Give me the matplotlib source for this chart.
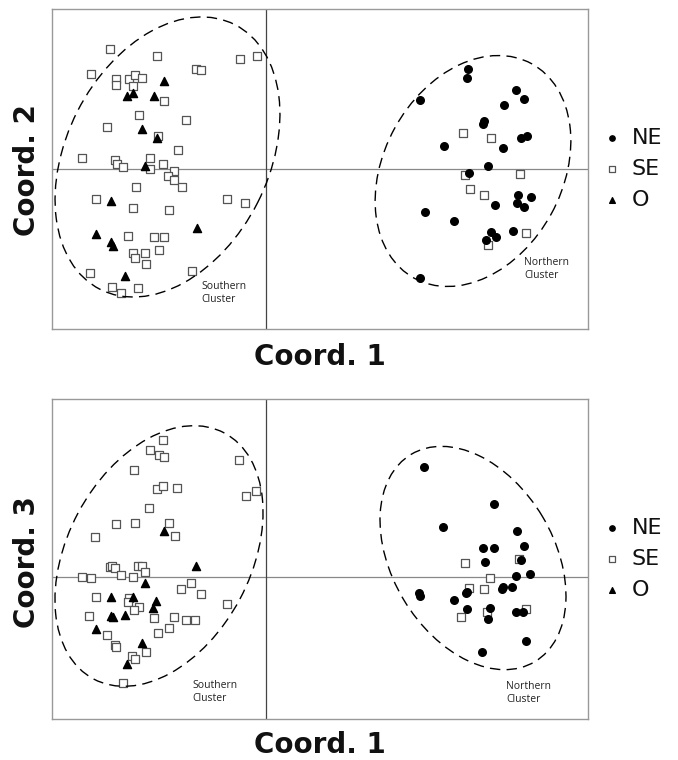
import matplotlib.pyplot as plt
from matplotlib.patches import Ellipse

# =========================
# DATA  (PCoA scores)
# =========================
# top panel: Coord. 1 vs Coord. 2
ne12_x = [2.02, 2.01, 1.54, 2.50, 2.58, 2.38, 2.18, 2.17, 1.78, 2.55, 2.61, 2.37, 2.22,
          2.03, 2.52, 2.65, 2.51, 2.58, 2.29, 1.59, 1.88, 2.25, 2.30, 2.47, 2.20, 1.54]
ne12_y = [1.00, 0.91, 0.69, 0.79, 0.70, 0.64, 0.48, 0.45, 0.23, 0.31, 0.33, 0.21, 0.03,
          -0.04, -0.26, -0.28, -0.34, -0.38, -0.36, -0.43, -0.52, -0.63, -0.68, -0.62, -0.71, -1.09]

se12_x = [-1.56, -1.09, -1.75, -0.26, -0.09, -0.70, -0.65, -1.50, -1.50, -1.37, -1.31, -1.24, -1.33,
          -1.02, -1.27, -0.80, -1.59, -1.08, -0.88, -1.84, -1.51, -1.49, -1.43, -1.16, -1.16, -1.03,
          -0.92, -0.98, -0.92, -0.84, -1.30, -1.70, -1.33, -0.97, -0.39, -0.21, -1.38, -1.12, -1.02,
          -1.07, -1.33, -1.31, -1.21, -1.20, -1.76, -0.74, -1.54, -1.45, -1.28,
          1.97, 2.25, 1.99, 2.54, 2.04, 2.18, 2.60, 2.22]
se12_y = [1.20, 1.13, 0.95, 1.10, 1.13, 1.00, 0.99, 0.90, 0.84, 0.90, 0.94, 0.91, 0.83,
          0.68, 0.54, 0.49, 0.42, 0.33, 0.19, 0.11, 0.09, 0.05, 0.02, 0.11, 0.00, 0.05,
          -0.02, -0.07, -0.11, -0.18, -0.18, -0.30, -0.39, -0.41, -0.30, -0.34, -0.67, -0.68, -0.68,
          -0.81, -0.84, -0.89, -0.84, -0.95, -1.04, -1.02, -1.18, -1.24, -1.19,
          0.36, 0.31, -0.06, -0.05, -0.20, -0.26, -0.64, -0.76]

o12_x = [-1.02, -1.33, -1.39, -1.12, -1.24, -1.09, -1.21, -1.55, -0.69, -1.70, -1.55, -1.53, -1.41]
o12_y = [0.88, 0.76, 0.73, 0.73, 0.40, 0.31, 0.03, -0.32, -0.59, -0.65, -0.73, -0.77, -1.07]

# bottom panel: Coord. 1 vs Coord. 3
ne13_x = [1.58, 2.28, 1.77, 2.51, 2.17, 2.28, 2.58, 2.19, 2.55, 2.64, 2.50, 2.37, 2.36,
          2.46, 2.01, 2.00, 1.53, 1.54, 1.88, 2.01, 2.24, 2.22, 2.50, 2.57, 2.60, 2.16]
ne13_y = [1.10, 0.73, 0.50, 0.46, 0.29, 0.29, 0.31, 0.15, 0.17, 0.03, 0.01, -0.10, -0.12,
          -0.10, -0.15, -0.16, -0.16, -0.19, -0.23, -0.32, -0.31, -0.42, -0.35, -0.35, -0.64, -0.75]

se13_x = [-1.03, -1.16, -1.07, -1.02, -0.27, -1.32, -1.09, -1.03, -0.89, -0.10, -0.20, -1.17, -1.50,
          -1.31, -0.97, -0.91, -1.71, -1.56, -1.54, -1.51, -1.28, -1.24, -1.21, -1.45, -1.33, -1.84,
          -1.75, -0.75, -0.85, -0.65, -1.70, -1.37, -1.38, -1.27, -1.32, -0.39, -1.77, -1.12, -0.92,
          -0.80, -0.71, -1.59, -0.97, -1.08, -1.51, -1.50, -1.20, -1.34, -1.31, -1.43,
          1.99, 2.53, 2.24, 2.03, 2.18, 2.21, 2.60, 1.95]
se13_y = [1.37, 1.27, 1.22, 1.20, 1.17, 1.07, 0.88, 0.91, 0.89, 0.86, 0.81, 0.69, 0.53,
          0.54, 0.54, 0.41, 0.40, 0.10, 0.11, 0.09, 0.11, 0.11, 0.05, 0.02, 0.00, 0.00,
          -0.01, -0.06, -0.12, -0.17, -0.20, -0.21, -0.25, -0.30, -0.33, -0.27, -0.39, -0.41, -0.40,
          -0.43, -0.43, -0.58, -0.51, -0.56, -0.68, -0.70, -0.75, -0.79, -0.82, -1.06,
          0.14, 0.18, -0.01, -0.11, -0.12, -0.35, -0.32, -0.40]

o13_x = [-1.02, -0.70, -1.21, -1.55, -1.33, -1.10, -1.13, -1.55, -1.53, -1.41, -1.70, -1.24, -1.39]
o13_y = [0.46, 0.11, -0.06, -0.20, -0.20, -0.24, -0.31, -0.39, -0.40, -0.38, -0.52, -0.66, -0.87]

# cluster ellipses: (center x, center y, width, height, angle)
ell12 = [(-0.985, 0.12, 2.97, 2.02, 63), (2.07, -0.02, 2.445, 1.785, 61.3)]
ell13 = [(-1.07, 0.21, 2.786, 1.833, 62), (2.07, 0.19, 2.414, 1.618, 120.8)]

# cluster label anchor (left, middle)
lab12 = [(-0.65, -1.24), (2.58, -1.00)]
lab13 = [(-0.74, -1.15), (2.40, -1.16)]

W, H = 678, 760


def panel(rect, ylim, ne, se, o, ells, labs, ylab, ylab_y, xlab_y):
    ax = fig.add_axes(rect)
    ax.set_xlim(-2.14, 3.22)
    ax.set_ylim(*ylim)
    ax.set_xticks([])
    ax.set_yticks([])
    for s in ax.spines.values():
        s.set_color("#999999")
        s.set_linewidth(1.0)
    ax.axhline(0, color="#888888", lw=0.9, zorder=1)
    ax.axvline(0, color="#444444", lw=0.9, zorder=1)

    ax.scatter(ne[0], ne[1], marker="o", s=30, color="black", label="NE", zorder=3)
    ax.scatter(se[0], se[1], marker="s", s=36, facecolor="white", edgecolor="#555555",
               linewidth=0.9, label="SE", zorder=2)
    ax.scatter(o[0], o[1], marker="^", s=34, color="black", label="O", zorder=3)

    for cx, cy, w, h, a in ells:
        ax.add_patch(Ellipse((cx, cy), w, h, angle=a, fill=False, edgecolor="black",
                             lw=1.0, linestyle=(0, (7.5, 4.5)), zorder=2))

    for (lx, ly), name in zip(labs, ["Southern", "Northern"]):
        ax.text(lx, ly, name + "\nCluster", ha="left", va="center", fontsize=7.5,
                family="Open Sans", color="#222222", linespacing=1.25)

    leg = ax.legend(loc="center left", bbox_to_anchor=(1.032, 0.5), frameon=False,
                    fontsize=16, handlelength=0.6, handletextpad=0.6, labelspacing=0.5,
                    borderpad=0, borderaxespad=0, markerscale=0.7)
    for t in leg.get_texts():
        t.set_color("#111111")

    fig.text(27 / W, 1 - ylab_y / H, ylab, rotation=90, ha="center", va="center",
             fontsize=20, fontweight="bold", color="#111111")
    fig.text(320 / W, 1 - xlab_y / H, "Coord. 1", ha="center", va="center",
             fontsize=20, fontweight="bold", color="#111111")
    return ax


fig = plt.figure(figsize=(W / 100, H / 100), dpi=100)

# =========================
# GRAPH 1: COORD 1 vs COORD 2
# =========================
panel([52 / W, (H - 329) / H, 536 / W, 320 / H], (-1.60, 1.60),
      (ne12_x, ne12_y), (se12_x, se12_y), (o12_x, o12_y), ell12, lab12,
      "Coord. 2", 170, 357)

# =========================
# GRAPH 2: COORD 1 vs COORD 3
# =========================
panel([52 / W, (H - 719) / H, 536 / W, 320 / H], (-1.42, 1.78),
      (ne13_x, ne13_y), (se13_x, se13_y), (o13_x, o13_y), ell13, lab13,
      "Coord. 3", 562, 745)

plt.savefig("out.png", dpi=100)
